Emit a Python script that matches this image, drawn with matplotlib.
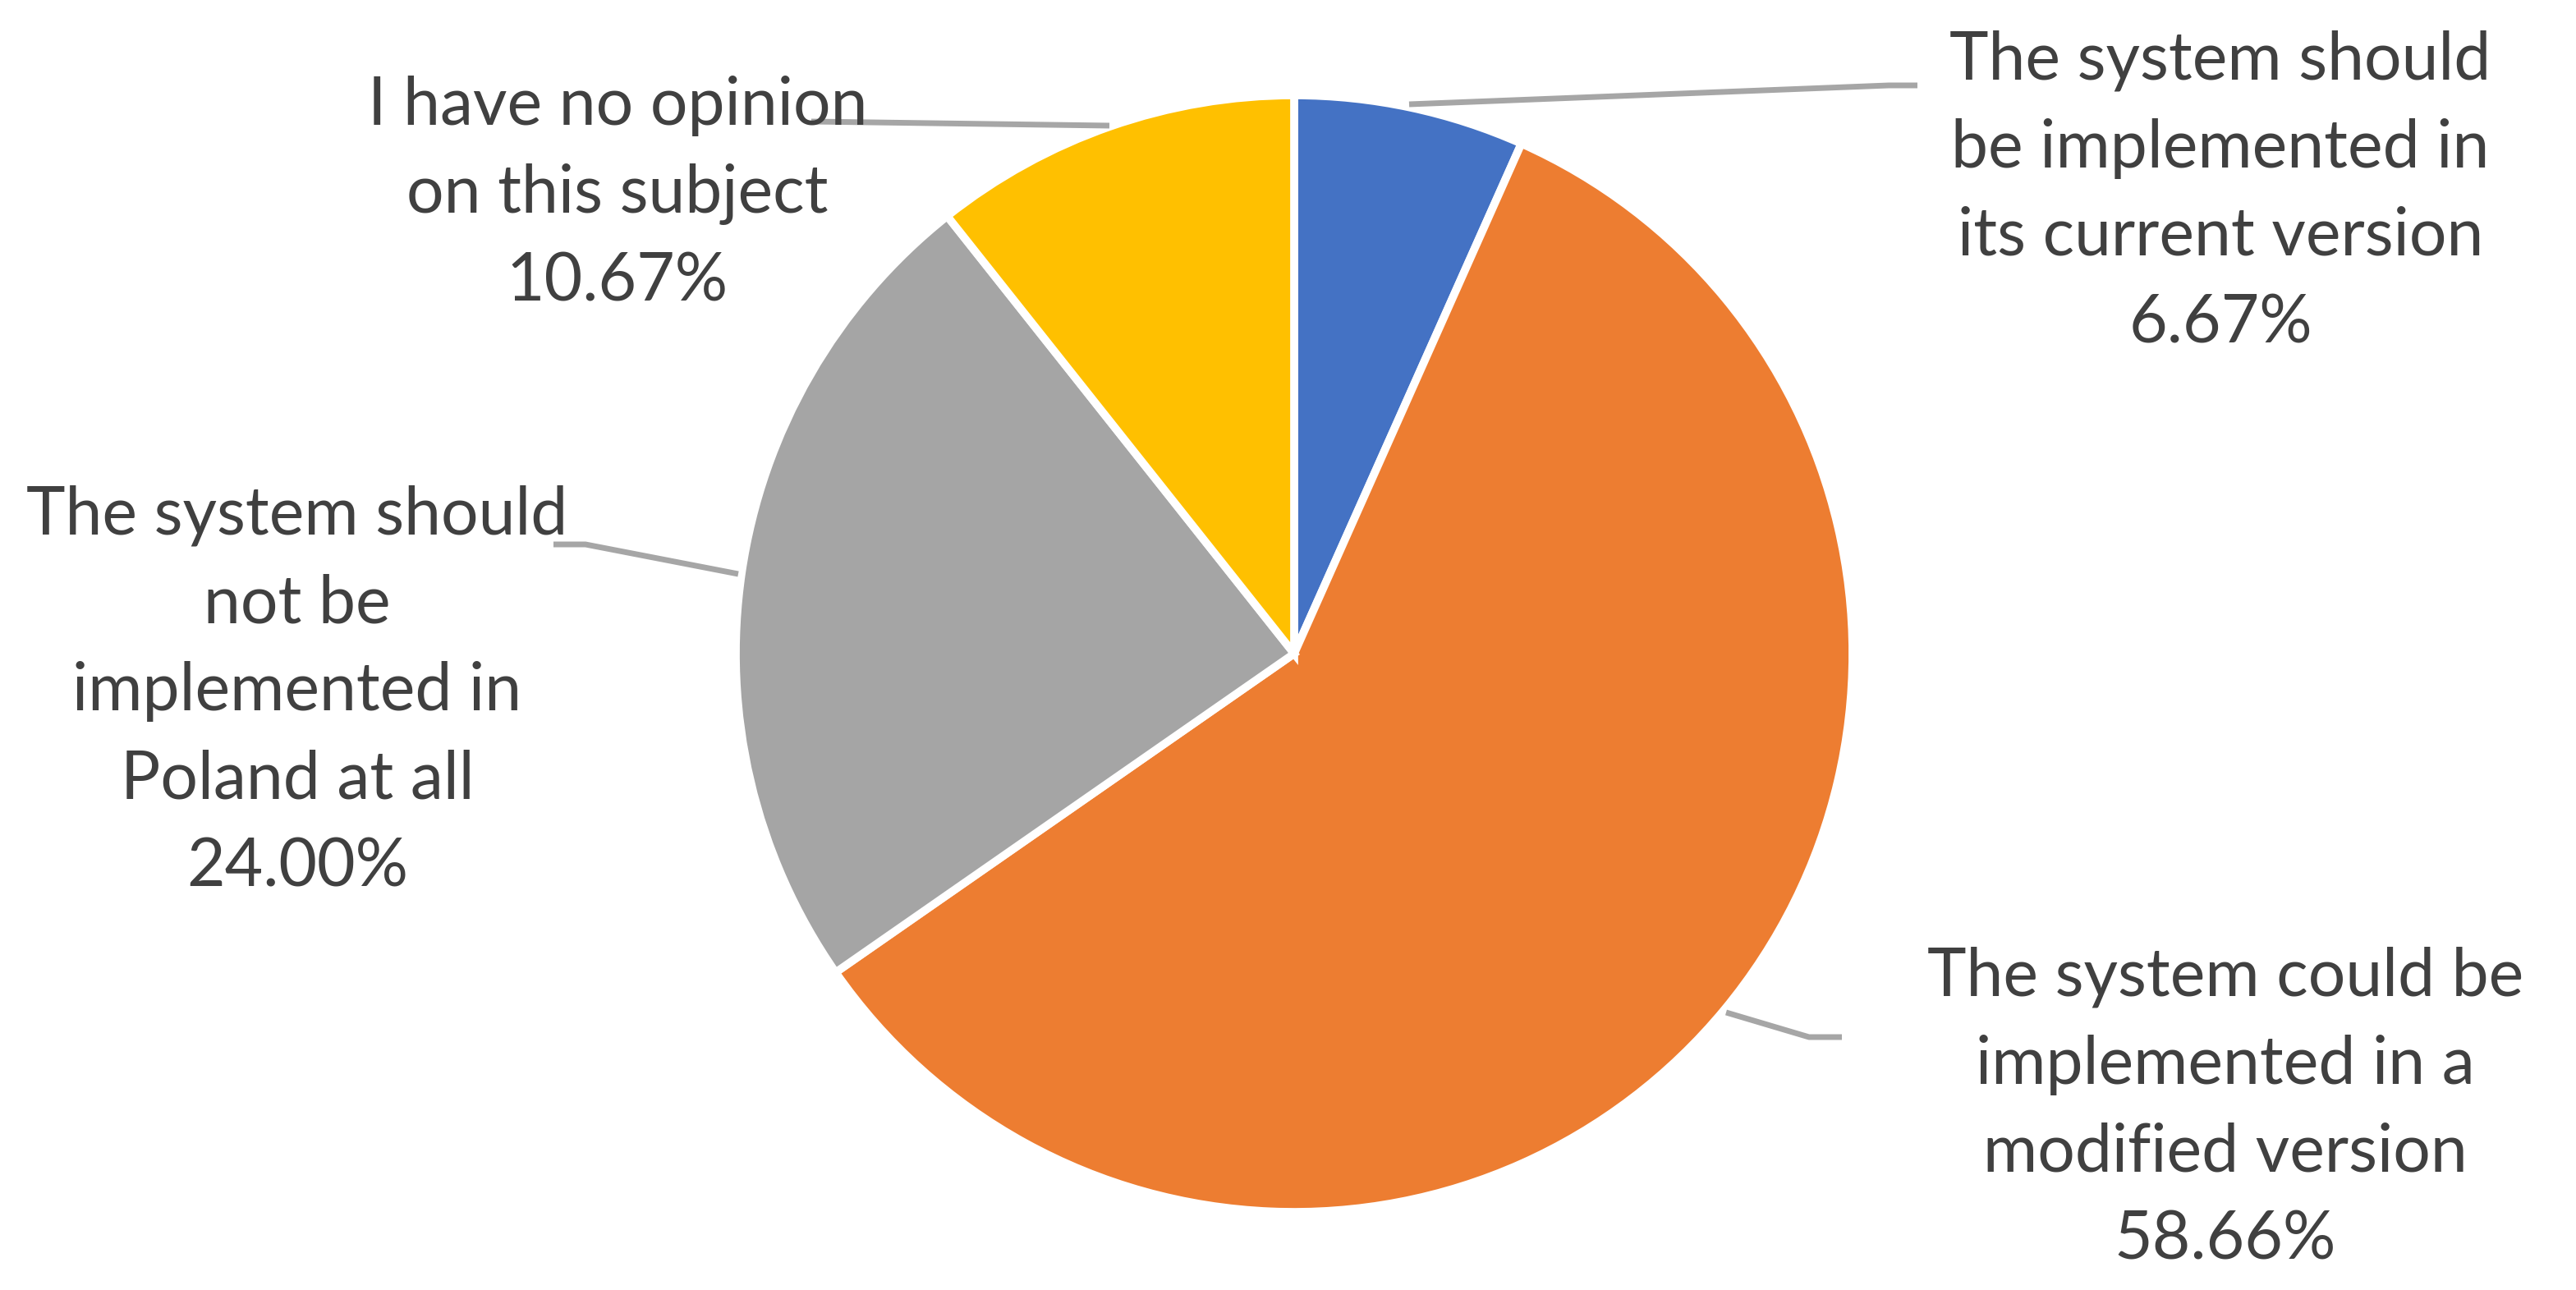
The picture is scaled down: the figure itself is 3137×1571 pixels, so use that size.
import matplotlib.pyplot as plt

# -------- Data --------
labels = ['The system should\nbe implemented in\nits current version',
          'The system could be\nimplemented in a\nmodified version',
          'The system should\nnot be\nimplemented in\nPoland at all',
          'I have no opinion\non this subject']
shares = [6.67, 58.66, 24.00, 10.67]
colors = ['#4472C4', '#ED7D31', '#A5A5A5', '#FFC000']

# -------- Layout (pixel coords, y from top) --------
W, H = 3137, 1571
center = (1576, 796)
radius = 680
label_xy = [(2704, 234), (2710, 1350), (362, 842), (752, 236)]
leaders = [
    [(1716, 127), (2300, 104), (2335, 104)],
    [(2102, 1233), (2203, 1263), (2243, 1263)],
    [(899, 699), (713, 663), (674, 663)],
    [(1351, 153), (988, 148)],
]

fig = plt.figure(figsize=(W / 100, H / 100), dpi=100)
ax = fig.add_axes([0, 0, 1, 1])

ax.pie(shares, colors=colors, startangle=90, counterclock=False,
       center=(center[0], H - center[1]), radius=radius,
       wedgeprops=dict(edgecolor='white', linewidth=7), frame=True)
ax.set_xlim(0, W)
ax.set_ylim(0, H)
ax.axis('off')

# leader lines
for pts in leaders:
    xs = [p[0] for p in pts]
    ys = [H - p[1] for p in pts]
    ax.plot(xs, ys, color='#A6A6A6', linewidth=5, solid_capstyle='butt', zorder=1)

# labels
for lab, val, (x, y) in zip(labels, shares, label_xy):
    ax.text(x, H - y, f"{lab}\n{val:.2f}%", ha='center', va='center',
            fontsize=58, family='Lato', color='#404040', linespacing=1.55,
            zorder=3)

plt.savefig('out.png', dpi=100)
